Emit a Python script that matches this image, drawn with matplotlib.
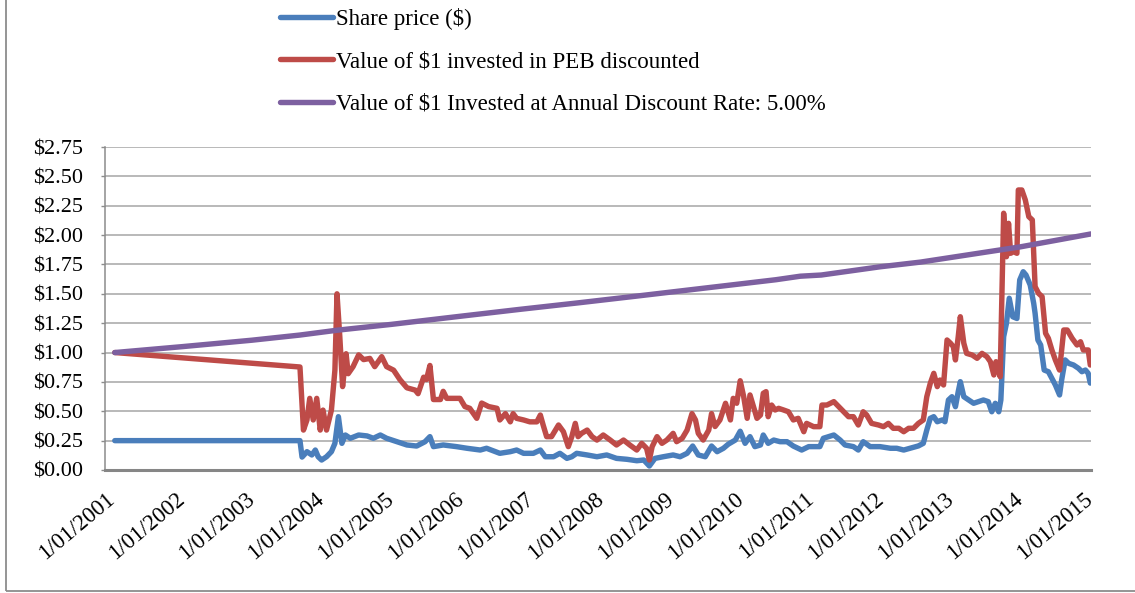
import matplotlib.pyplot as plt
from matplotlib.patches import Rectangle
from matplotlib.ticker import FuncFormatter

plt.rcParams['font.family'] = ['Liberation Serif', 'DejaVu Serif']

# time in decimal years
share_years = [2001.04, 2003.69, 2003.72, 2003.79, 2003.86, 2003.91, 2003.95, 2004.00, 2004.07,
               2004.14, 2004.19, 2004.24, 2004.29, 2004.34, 2004.41, 2004.53, 2004.65, 2004.74,
               2004.84, 2004.93, 2005.08, 2005.22, 2005.36, 2005.48, 2005.55, 2005.60, 2005.74,
               2005.93, 2006.08, 2006.27, 2006.36, 2006.55, 2006.70, 2006.79, 2006.89, 2007.03,
               2007.13, 2007.20, 2007.32, 2007.41, 2007.51, 2007.58, 2007.65, 2007.80, 2007.94,
               2008.08, 2008.22, 2008.37, 2008.51, 2008.61, 2008.69, 2008.77, 2008.89, 2009.03,
               2009.13, 2009.23, 2009.31, 2009.39, 2009.49, 2009.58, 2009.66, 2009.75, 2009.82,
               2009.92, 2009.99, 2010.06, 2010.13, 2010.20, 2010.28, 2010.32, 2010.39, 2010.47,
               2010.56, 2010.66, 2010.75, 2010.87, 2010.97, 2011.13, 2011.18, 2011.33, 2011.42,
               2011.49, 2011.61, 2011.68, 2011.75, 2011.85, 2011.99, 2012.14, 2012.23, 2012.33,
               2012.42, 2012.54, 2012.61, 2012.66, 2012.71, 2012.76, 2012.81, 2012.88, 2012.92,
               2012.97, 2013.02, 2013.07, 2013.11, 2013.14, 2013.19, 2013.26, 2013.33, 2013.40,
               2013.47, 2013.54, 2013.59, 2013.64, 2013.69, 2013.72, 2013.76, 2013.80, 2013.84,
               2013.89, 2013.95, 2013.99, 2014.04, 2014.08, 2014.14, 2014.19, 2014.21, 2014.25,
               2014.29, 2014.34, 2014.40, 2014.45, 2014.50, 2014.56, 2014.59, 2014.64, 2014.69,
               2014.76, 2014.83, 2014.88, 2014.93, 2014.97, 2015.00]
share_price = [0.25, 0.25, 0.11, 0.156, 0.128, 0.17, 0.113, 0.085, 0.113,
               0.156, 0.227, 0.454, 0.227, 0.298, 0.27, 0.298, 0.29, 0.27,
               0.298, 0.27, 0.241, 0.213, 0.204, 0.241, 0.284, 0.199, 0.213,
               0.199, 0.185, 0.17, 0.185, 0.142, 0.156, 0.17, 0.142, 0.142,
               0.17, 0.113, 0.113, 0.142, 0.099, 0.113, 0.142, 0.128, 0.113,
               0.128, 0.099, 0.091, 0.079, 0.085, 0.034, 0.099, 0.113, 0.128,
               0.113, 0.142, 0.204, 0.128, 0.113, 0.204, 0.156, 0.185, 0.22,
               0.255, 0.33, 0.227, 0.284, 0.199, 0.213, 0.298, 0.227, 0.255,
               0.241, 0.241, 0.204, 0.17, 0.199, 0.199, 0.27, 0.298, 0.255,
               0.213, 0.199, 0.17, 0.241, 0.199, 0.199, 0.185, 0.185, 0.17,
               0.185, 0.205, 0.227, 0.34, 0.44, 0.454, 0.411, 0.426, 0.411,
               0.596, 0.624, 0.539, 0.667, 0.752, 0.624, 0.596, 0.568, 0.582,
               0.596, 0.582, 0.496, 0.568, 0.496, 0.596, 1.135, 1.249, 1.462,
               1.305, 1.29, 1.618, 1.688, 1.66, 1.575, 1.419, 1.334, 1.107,
               1.064, 0.851, 0.837, 0.781, 0.724, 0.639, 0.766, 0.937, 0.908,
               0.894, 0.866, 0.837, 0.851, 0.823, 0.74]

peb_years = [2001.04, 2003.69, 2003.74, 2003.79, 2003.83, 2003.88, 2003.93, 2003.98, 2004.02,
             2004.07, 2004.14, 2004.19, 2004.22, 2004.26, 2004.30, 2004.35, 2004.38, 2004.45,
             2004.53, 2004.60, 2004.69, 2004.76, 2004.86, 2004.93, 2005.03, 2005.12, 2005.22,
             2005.34, 2005.38, 2005.46, 2005.50, 2005.55, 2005.60, 2005.70, 2005.74, 2005.79,
             2005.98, 2006.05, 2006.12, 2006.22, 2006.29, 2006.39, 2006.51, 2006.55, 2006.63,
             2006.70, 2006.74, 2006.79, 2006.89, 2006.98, 2007.08, 2007.13, 2007.17, 2007.22,
             2007.29, 2007.39, 2007.46, 2007.53, 2007.58, 2007.63, 2007.67, 2007.72, 2007.80,
             2007.87, 2007.94, 2008.03, 2008.13, 2008.22, 2008.32, 2008.41, 2008.51, 2008.58,
             2008.65, 2008.69, 2008.73, 2008.80, 2008.87, 2008.94, 2009.03, 2009.08, 2009.16,
             2009.23, 2009.30, 2009.35, 2009.39, 2009.46, 2009.54, 2009.58, 2009.63, 2009.70,
             2009.78, 2009.85, 2009.89, 2009.94, 2009.99, 2010.04, 2010.09, 2010.13, 2010.18,
             2010.23, 2010.28, 2010.32, 2010.36, 2010.39, 2010.44, 2010.49, 2010.54, 2010.61,
             2010.68, 2010.75, 2010.82, 2010.87, 2010.90, 2010.94, 2011.04, 2011.13, 2011.16,
             2011.23, 2011.33, 2011.40, 2011.47, 2011.54, 2011.61, 2011.68, 2011.75, 2011.80,
             2011.87, 2011.97, 2012.04, 2012.11, 2012.18, 2012.26, 2012.33, 2012.40, 2012.47,
             2012.54, 2012.61, 2012.66, 2012.71, 2012.76, 2012.81, 2012.85, 2012.90, 2012.95,
             2013.00, 2013.04, 2013.07, 2013.11, 2013.14, 2013.19, 2013.23, 2013.31, 2013.38,
             2013.45, 2013.52, 2013.57, 2013.62, 2013.65, 2013.71, 2013.76, 2013.80, 2013.83,
             2013.86, 2013.90, 2013.95, 2013.97, 2014.02, 2014.07, 2014.12, 2014.17, 2014.21,
             2014.26, 2014.31, 2014.36, 2014.40, 2014.45, 2014.50, 2014.56, 2014.62, 2014.67,
             2014.74, 2014.81, 2014.86, 2014.90, 2014.97, 2015.00]
peb_value = [1.00, 0.877, 0.34, 0.426, 0.61, 0.426, 0.61, 0.34, 0.51,
             0.34, 0.51, 0.85, 1.50, 1.135, 0.71, 0.99, 0.82, 0.88,
             0.98, 0.94, 0.95, 0.88, 0.965, 0.88, 0.85, 0.77, 0.70,
             0.68, 0.65, 0.79, 0.77, 0.89, 0.60, 0.60, 0.67, 0.61,
             0.61, 0.54, 0.525, 0.44, 0.57, 0.54, 0.525, 0.426, 0.48,
             0.41, 0.48, 0.44, 0.426, 0.41, 0.41, 0.468, 0.383, 0.284,
             0.284, 0.383, 0.326, 0.199, 0.284, 0.397, 0.284, 0.312, 0.34,
             0.284, 0.255, 0.298, 0.255, 0.213, 0.255, 0.213, 0.17, 0.227,
             0.185, 0.085, 0.199, 0.284, 0.227, 0.255, 0.312, 0.241, 0.27,
             0.34, 0.48, 0.426, 0.312, 0.255, 0.34, 0.48, 0.37, 0.426,
             0.568, 0.426, 0.61, 0.568, 0.76, 0.624, 0.44, 0.639, 0.539,
             0.44, 0.468, 0.653, 0.667, 0.454, 0.553, 0.511, 0.525, 0.511,
             0.496, 0.426, 0.44, 0.369, 0.326, 0.397, 0.369, 0.369, 0.553,
             0.553, 0.582, 0.539, 0.496, 0.454, 0.454, 0.383, 0.496, 0.468,
             0.397, 0.383, 0.369, 0.397, 0.355, 0.355, 0.326, 0.355, 0.355,
             0.397, 0.426, 0.624, 0.738, 0.823, 0.71, 0.766, 0.724, 1.107,
             1.079, 1.05, 0.937, 1.135, 1.305, 1.079, 0.993, 0.979, 0.951,
             0.993, 0.965, 0.922, 0.809, 0.922, 0.794, 2.186, 1.816, 2.10,
             1.845, 1.859, 1.845, 2.384, 2.384, 2.299, 2.157, 2.129, 1.561,
             1.504, 1.476, 1.164, 1.121, 1.022, 0.937, 0.851, 1.192, 1.192,
             1.121, 1.064, 1.092, 1.022, 1.022, 0.894]

bench_years = [2001.04, 2002.00, 2003.00, 2003.69, 2004.22, 2005.00, 2006.00, 2006.84, 2007.70,
               2008.50, 2009.50, 2010.50, 2010.85, 2011.15, 2011.99, 2012.57, 2014.00, 2015.01]
bench_value = [1.00, 1.05, 1.105, 1.149, 1.19, 1.24, 1.31, 1.368, 1.425,
               1.48, 1.55, 1.62, 1.65, 1.66, 1.73, 1.77, 1.90, 2.01]

labels = ['Share price ($)',
          'Value of $1 invested in PEB discounted',
          'Value of $1 Invested at Annual Discount Rate: 5.00%']
colors = ['#4A7EBB', '#BE4B48', '#7D60A0']
year_ticks = list(range(2001, 2016))

fig = plt.figure(figsize=(11.35, 5.93), dpi=100)
ax = fig.add_axes([105 / 1135, 1 - 470 / 593, 986 / 1135, 323 / 593])

kw = dict(lw=3.9, solid_capstyle='round', solid_joinstyle='round')
l1, = ax.plot(share_years, share_price, color=colors[0], **kw)
l2, = ax.plot(peb_years, peb_value, color=colors[1], **kw)
l3, = ax.plot(bench_years, bench_value, color=colors[2], **kw)

ax.set_xlim(2000.90, 2015.01)
ax.set_ylim(0, 2.75)
ax.set_yticks([i * 0.25 for i in range(12)])
ax.yaxis.set_major_formatter(FuncFormatter(lambda v, p: '${:.2f}'.format(v)))
ax.set_xticks(year_ticks)
ax.set_xticklabels(['1/01/{}'.format(y) for y in year_ticks])

ax.grid(axis='y', color='#A5A5A5', lw=1.1)
ax.set_axisbelow(True)
for s in ['top', 'right']:
    ax.spines[s].set_visible(False)
ax.spines['left'].set_color('#8C8C8C')
ax.spines['left'].set_linewidth(1.1)
ax.spines['bottom'].set_color('#868686')
ax.spines['bottom'].set_linewidth(2.2)

ax.tick_params(axis='y', length=3, width=1, color='#8C8C8C', pad=13, labelsize=16)
ax.tick_params(axis='x', length=0, pad=19, labelsize=16.5)
plt.setp(ax.get_xticklabels(), rotation=40, ha='right', va='center', rotation_mode='anchor')

fig.legend([l1, l2, l3], labels, loc='upper left', bbox_to_anchor=(278 / 1135, 1 - 6 / 593),
           frameon=False, fontsize=16.5, borderpad=0.1, borderaxespad=0, handlelength=2.3,
           handletextpad=0.15, labelspacing=0.92)

fig.patches.append(Rectangle((6 / 1135, 2 / 593), 1.2, 1.2, transform=fig.transFigure,
                             fill=False, ec='#8C8C8C', lw=1.3))

fig.savefig('out.png', dpi=100)
